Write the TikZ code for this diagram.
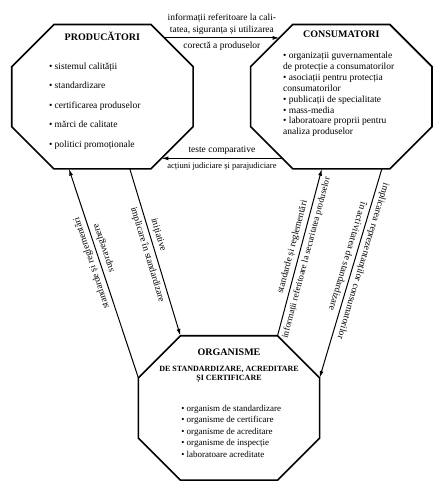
\documentclass[tikz,border=0pt]{standalone}
\usepackage{fontspec}
\setmainfont{Liberation Serif}
\usetikzlibrary{arrows.meta,calc}
\tikzset{
  >={Latex[length=2.4mm,width=1.4mm]},
  octo/.style={minimum width=63.6mm,minimum height=50.6mm,inner sep=0pt},
  frame/.style={line width=1.6pt,line join=miter},
  flow/.style={->,line width=1pt},
  head/.style={font=\fontsize{10}{12}\selectfont\bfseries},
  list/.style={align=left,anchor=west},
  lbl/.style={font=\fontsize{9.5}{11.5}\selectfont,align=center},
  along/.style={lbl,sloped,allow upside down},
}
% chamfered outline round an octo node
\newcommand\octoframe[1]{\draw[frame] ([xshift=14.8mm]#1.north west) -- ([xshift=-14.8mm]#1.north east)
  -- ([yshift=-14.8mm]#1.north east) -- ([yshift=14.8mm]#1.south east)
  -- ([xshift=-14.8mm]#1.south east) -- ([xshift=14.8mm]#1.south west)
  -- ([yshift=14.8mm]#1.south west) -- ([yshift=-14.8mm]#1.north west) -- cycle;}

\begin{document}
\begin{tikzpicture}
  \useasboundingbox (0,0) rectangle (15.64,17.12);
  \node[octo] (prod) at (3.60,13.72) {};
  \node[octo] (cons) at (12.00,13.72) {};
  \node[octo] (org) at (8.05,2.78) {};
  \foreach \n in {prod,cons,org} \octoframe{\n};

  \node[head] (prod-t) at ($(prod.north)+(0,-0.40)$) {PRODUCĂTORI};
  \node[list,font=\fontsize{9.5}{19.5}\selectfont] (prod-l) at ($(prod.center)+(-2.0,-0.33)$)
    {\textbullet\ sistemul calității\\\textbullet\ standardizare\\\textbullet\ certificarea produselor\\
     \textbullet\ mărci de calitate\\\textbullet\ politici promoționale};

  \node[head] (cons-t) at ($(cons.north)+(0,-0.33)$) {CONSUMATORI};
  \node[list,font=\fontsize{9.5}{10.9}\selectfont] (cons-l) at ($(cons.center)+(-2.17,0.08)$)
    {\textbullet\ organizații guvernamentale\\de protecție a consumatorilor\\
     \textbullet\ asociații pentru protecția\\consumatorilor\\\textbullet\ publicații de specialitate\\
     \textbullet\ mass-media\\\textbullet\ laboratoare proprii pentru\\analiza produselor};

  \node[head] (org-t) at ($(org.north)+(0,-0.57)$) {ORGANISME};
  \node[font=\fontsize{8}{8.8}\selectfont\bfseries,align=center] (org-s) at ($(org.north)+(0,-1.37)$)
    {DE STANDARDIZARE, ACREDITARE\\ȘI CERTIFICARE};
  \node[list,font=\fontsize{9}{11.5}\selectfont] (org-l) at ($(org.center)+(-1.80,-0.81)$)
    {\textbullet\ organism de standardizare\\\textbullet\ organisme de certificare\\
     \textbullet\ organisme de acreditare\\\textbullet\ organisme de inspecție\\
     \textbullet\ laboratoare acreditate};

  \draw[flow] ($(prod.north east)+(-1.01,-0.47)$) --
    node[lbl,above]{informații referitoare la cali-\\tatea, siguranța și utilizarea}
    node[lbl,below]{corectă a produselor} ($(cons.north west)+(1.01,-0.47)$);
  \draw[flow] ($(cons.south west)+(1.11,0.37)$) --
    node[lbl,above]{teste comparative}
    node[lbl,below,font=\fontsize{8.5}{10}\selectfont]{acțiuni judiciare și parajudiciare}
    ($(prod.south east)+(-1.11,0.37)$);
  \draw[flow] ($(org.north west)+(0,-1.48)$) --
    node[along,above,pos=0.56]{standarde și reglementări}
    node[along,below,pos=0.61]{supraveghere} ($(prod.south west)+(2.01,0)$);
  \draw[flow] ($(prod.south west)+(4.15,0)$) --
    node[along,above,pos=0.41]{inițiative}
    node[along,below,pos=0.5]{implicare în standardizare} ($(org.north west)+(1.48,0)$);
  \draw[flow] ($(org.north east)+(-1.48,0)$) --
    node[along,above,pos=0.52]{standarde și reglementări}
    node[along,below,pos=0.48,font=\fontsize{9}{11}\selectfont]{informații referitoare la securitatea produselor}
    ($(cons.south west)+(2.50,0)$);
  \draw[flow] ($(cons.south west)+(4.61,0)$) --
    node[along,above,pos=0.43]{implicarea reprezentanților consumatorilor}
    node[along,below,pos=0.43]{în activitatea de standardizare} ($(org.north east)+(0,-1.48)$);
\end{tikzpicture}
\end{document}
